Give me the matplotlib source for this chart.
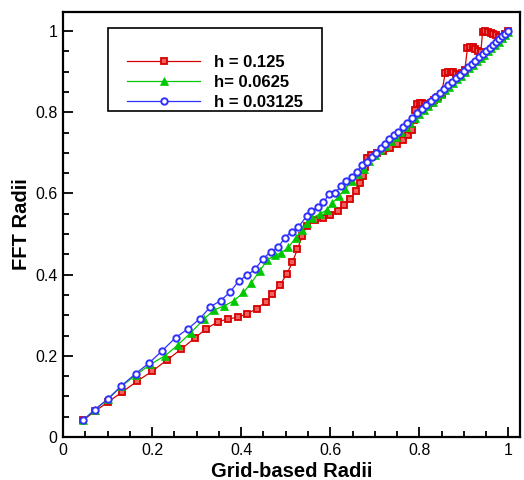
import matplotlib
matplotlib.use("Agg")
import matplotlib.pyplot as plt
from matplotlib.patches import Rectangle
from matplotlib.ticker import MultipleLocator, FuncFormatter

plt.rcParams['font.family'] = ['Liberation Sans', 'DejaVu Sans']

# h = 0.125
x_125 = [0.045, 0.071, 0.101, 0.133, 0.166, 0.200, 0.234, 0.266, 0.296, 0.322, 0.348, 0.371, 0.393,
         0.414, 0.435, 0.455, 0.470, 0.487, 0.502, 0.515, 0.526, 0.537, 0.547, 0.566, 0.583, 0.600,
         0.617, 0.631, 0.645, 0.658, 0.667, 0.674, 0.678, 0.683, 0.691, 0.704, 0.719, 0.734, 0.749,
         0.764, 0.775, 0.783, 0.787, 0.790, 0.795, 0.801, 0.807, 0.813, 0.819, 0.826, 0.834, 0.842,
         0.850, 0.858, 0.864, 0.870, 0.876, 0.882, 0.888, 0.895, 0.902, 0.908, 0.914, 0.920, 0.926,
         0.932, 0.938, 0.942, 0.948, 0.954, 0.960, 0.966, 0.972, 0.978, 0.985, 0.993, 1.0]
y_125 = [0.041, 0.063, 0.086, 0.111, 0.137, 0.162, 0.190, 0.217, 0.244, 0.267, 0.284, 0.291, 0.295,
         0.304, 0.316, 0.333, 0.352, 0.374, 0.401, 0.430, 0.462, 0.495, 0.520, 0.535, 0.539, 0.547,
         0.557, 0.571, 0.587, 0.606, 0.625, 0.643, 0.665, 0.688, 0.694, 0.700, 0.705, 0.712, 0.721,
         0.731, 0.745, 0.757, 0.781, 0.805, 0.820, 0.822, 0.822, 0.820, 0.818, 0.824, 0.830, 0.838,
         0.846, 0.896, 0.900, 0.900, 0.898, 0.895, 0.892, 0.897, 0.903, 0.958, 0.962, 0.960, 0.957,
         0.952, 0.948, 0.998, 1.000, 0.998, 0.995, 0.992, 0.990, 0.985, 0.984, 0.992, 1.0]

# h = 0.0625
x_0625 = [0.045, 0.071, 0.101, 0.131, 0.163, 0.196, 0.229, 0.258, 0.287, 0.316, 0.339, 0.362, 0.384,
          0.405, 0.423, 0.442, 0.459, 0.476, 0.489, 0.506, 0.522, 0.537, 0.547, 0.560, 0.576, 0.592,
          0.605, 0.620, 0.634, 0.648, 0.662, 0.676, 0.688, 0.700, 0.712, 0.724, 0.736, 0.747, 0.758,
          0.769, 0.780, 0.790, 0.800, 0.810, 0.820, 0.830, 0.840, 0.849, 0.858, 0.867, 0.876, 0.885,
          0.894, 0.903, 0.912, 0.921, 0.930, 0.938, 0.946, 0.954, 0.962, 0.970, 0.978, 0.986, 0.993, 1.0]
y_0625 = [0.041, 0.067, 0.093, 0.125, 0.152, 0.179, 0.200, 0.227, 0.257, 0.290, 0.313, 0.323, 0.336,
          0.356, 0.380, 0.410, 0.436, 0.448, 0.453, 0.467, 0.490, 0.510, 0.528, 0.540, 0.549, 0.559,
          0.577, 0.594, 0.612, 0.630, 0.648, 0.660, 0.680, 0.694, 0.706, 0.718, 0.730, 0.740, 0.752,
          0.763, 0.774, 0.785, 0.795, 0.805, 0.815, 0.826, 0.836, 0.845, 0.854, 0.863, 0.872, 0.881,
          0.890, 0.899, 0.908, 0.917, 0.926, 0.934, 0.942, 0.950, 0.958, 0.966, 0.974, 0.982, 0.990, 0.997]

# h = 0.03125
x_03125 = [0.045, 0.071, 0.100, 0.130, 0.163, 0.193, 0.223, 0.253, 0.280, 0.307, 0.331, 0.354, 0.375,
           0.395, 0.414, 0.431, 0.449, 0.466, 0.483, 0.498, 0.513, 0.528, 0.547, 0.557, 0.572, 0.584,
           0.598, 0.611, 0.624, 0.635, 0.648, 0.659, 0.671, 0.682, 0.693, 0.703, 0.713, 0.723, 0.733,
           0.743, 0.753, 0.763, 0.773, 0.783, 0.794, 0.805, 0.816, 0.826, 0.836, 0.846, 0.856, 0.865,
           0.874, 0.883, 0.892, 0.901, 0.910, 0.918, 0.926, 0.934, 0.942, 0.950, 0.958, 0.965, 0.972,
           0.979, 0.986, 0.993, 1.0]
y_03125 = [0.041, 0.067, 0.093, 0.125, 0.156, 0.182, 0.213, 0.245, 0.266, 0.291, 0.321, 0.336, 0.357,
           0.385, 0.399, 0.413, 0.439, 0.456, 0.467, 0.491, 0.506, 0.517, 0.544, 0.557, 0.566, 0.578,
           0.598, 0.602, 0.618, 0.631, 0.641, 0.652, 0.670, 0.678, 0.689, 0.700, 0.712, 0.722, 0.733,
           0.743, 0.752, 0.764, 0.774, 0.785, 0.797, 0.809, 0.818, 0.828, 0.838, 0.848, 0.858, 0.866,
           0.875, 0.884, 0.893, 0.902, 0.911, 0.919, 0.927, 0.935, 0.943, 0.951, 0.959, 0.966, 0.973,
           0.980, 0.987, 0.994, 1.0]

labels = ["h = 0.125", "h= 0.0625", "h = 0.03125"]

fig = plt.figure(figsize=(5.24, 4.8), dpi=100)
ax = fig.add_axes([63/524, 1 - 437/480, 457/524, 425/480])

red = '#d80000'
green = '#00c800'
blue = '#3030ff'

ax.plot(x_125, y_125, color=red, lw=0.9, marker='s', ms=4.0, mfc='#f06060', mec=red, mew=1.3,
        label=labels[0], zorder=3)
ax.plot(x_0625, y_0625, color=green, lw=0.9, marker='^', ms=5.2, mfc=green, mec=green, mew=0.5,
        label=labels[1], zorder=4)
ax.plot(x_03125, y_03125, color=blue, lw=0.9, marker='o', ms=4.6, mfc='white', mec=blue, mew=1.4,
        label=labels[2], zorder=5)

ax.set_xlim(0, 1.026)
ax.set_ylim(0, 1.047)
ax.xaxis.set_major_locator(MultipleLocator(0.2))
ax.xaxis.set_minor_locator(MultipleLocator(0.05))
ax.yaxis.set_major_locator(MultipleLocator(0.2))
ax.yaxis.set_minor_locator(MultipleLocator(0.05))
ax.xaxis.set_major_formatter(FuncFormatter(lambda v, p: ('%g' % round(v, 3))))
ax.yaxis.set_major_formatter(FuncFormatter(lambda v, p: ('%g' % round(v, 3))))

ax.tick_params(which='both', direction='in', top=False, right=False, labelsize=11.5, width=1.3)
ax.tick_params(which='major', length=7, pad=4)
ax.tick_params(which='minor', length=4)
for s in ax.spines.values():
    s.set_linewidth(1.6)

ax.set_xlabel("Grid-based Radii", fontsize=14.5, fontweight='bold', labelpad=3)
ax.set_ylabel("FFT Radii", fontsize=14.5, fontweight='bold', labelpad=3)

# legend box
ax.add_patch(Rectangle((0.098, 0.766), 0.469, 0.196, transform=ax.transAxes, fill=False,
                       ec='black', lw=1.2, zorder=10))
leg = ax.legend(loc='upper left', bbox_to_anchor=(0.140, 0.899), frameon=False,
                prop={'weight': 'bold', 'size': 12}, handlelength=4.4, handletextpad=0.8,
                labelspacing=0.3, borderpad=0, borderaxespad=0)
leg.set_zorder(11)

fig.savefig("out.png", dpi=100)
